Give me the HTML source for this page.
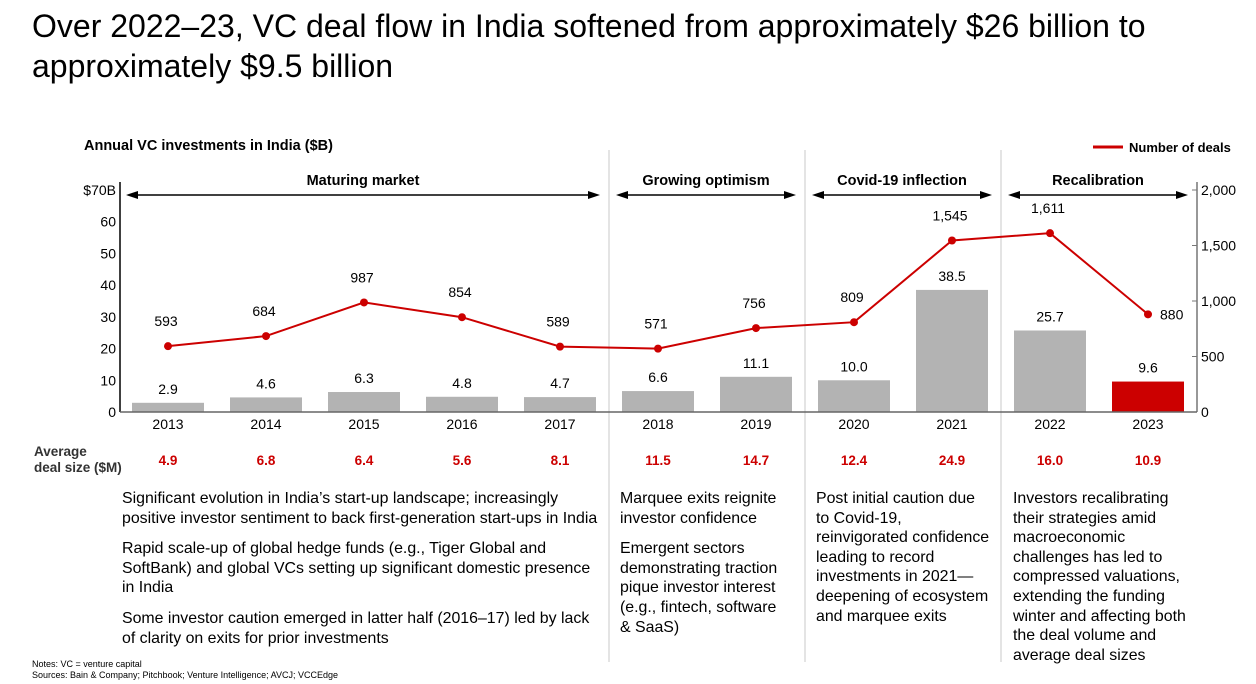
<!DOCTYPE html>
<html><head><meta charset="utf-8"><style>
body{margin:0;width:1256px;height:684px;background:#fff;font-family:"Liberation Sans",Arial,sans-serif;position:relative;overflow:hidden;color:#000}
.abs{position:absolute}
.title{left:32px;top:6px;font-size:32px;line-height:40px;white-space:nowrap}
.txt{font-size:15.9px;line-height:19.6px;white-space:nowrap}
.txt p{margin:0 0 11px 0}
.note{font-size:9px;left:32px;line-height:11px}
</style></head><body>
<div class="abs title">Over 2022–23, VC deal flow in India softened from approximately $26 billion to<br>approximately $9.5 billion</div>
<svg class="abs" style="left:0;top:0" width="1256" height="684">
<g id="g"></g>
</svg>
<div class="abs txt" style="left:122px;top:489px"><p>Significant evolution in India’s start-up landscape; increasingly<br>positive investor sentiment to back first-generation start-ups in India</p><p>Rapid scale-up of global hedge funds (e.g., Tiger Global and<br>SoftBank) and global VCs setting up significant domestic presence<br>in India</p><p>Some investor caution emerged in latter half (2016–17) led by lack<br>of clarity on exits for prior investments</p></div>
<div class="abs txt" style="left:620px;top:489px"><p>Marquee exits reignite<br>investor confidence</p><p>Emergent sectors<br>demonstrating traction<br>pique investor interest<br>(e.g., fintech, software<br>&amp; SaaS)</p></div>
<div class="abs txt" style="left:816px;top:489px"><p>Post initial caution due<br>to Covid-19,<br>reinvigorated confidence<br>leading to record<br>investments in 2021—<br>deepening of ecosystem<br>and marquee exits</p></div>
<div class="abs txt" style="left:1013px;top:489px"><p>Investors recalibrating<br>their strategies amid<br>macroeconomic<br>challenges has led to<br>compressed valuations,<br>extending the funding<br>winter and affecting both<br>the deal volume and<br>average deal sizes</p></div>
<div class="abs note" style="top:659px">Notes: VC = venture capital</div>
<div class="abs note" style="top:670px">Sources: Bain &amp; Company; Pitchbook; Venture Intelligence; AVCJ; VCCEdge</div>
<script>
const years=['2013','2014','2015','2016','2017','2018','2019','2020','2021','2022','2023'];
const investments=[2.9,4.6,6.3,4.8,4.7,6.6,11.1,10.0,38.5,25.7,9.6];
const deals=[593,684,987,854,589,571,756,809,1545,1611,880];
const dealSize=['4.9','6.8','6.4','5.6','8.1','11.5','14.7','12.4','24.9','16.0','10.9'];
const leftTicks=[0,10,20,30,40,50,60,70];
const rightTicks=[0,500,1000,1500,2000];
const phases=['Maturing market','Growing optimism','Covid-19 inflection','Recalibration'];
const phaseSpan=[[0,4],[5,6],[7,8],[9,10]];

const NS='http://www.w3.org/2000/svg';
const gRoot=document.getElementById('g');
const X0=168,STEP=98,BASE=412,TOPY=190;
const xs=i=>X0+i*STEP;
const yL=v=>BASE-(v/70)*(BASE-TOPY);
const yR=v=>BASE-(v/2000)*(BASE-TOPY);
function el(t,a,txt){const e=document.createElementNS(NS,t);for(const k in a)e.setAttribute(k,a[k]);if(txt!=null)e.textContent=txt;gRoot.appendChild(e);return e;}
const F='Liberation Sans, Arial, sans-serif';
const FS=14;
let e;
e=el('text',{x:84,y:150,'font-size':14.5,'font-weight':'bold','font-family':F},'Annual VC investments in India ($B)');


[609,805,1001].forEach(x=>{e=el('line',{x1:x,y1:150,x2:x,y2:662,stroke:'#c8c8c8','stroke-width':1});

});
e=el('line',{x1:120,y1:182,x2:120,y2:BASE,stroke:'#000','stroke-width':1.5});


e=el('line',{x1:1197,y1:182,x2:1197,y2:BASE,stroke:'#777','stroke-width':1.5});


leftTicks.forEach(t=>{e=el('text',{x:116,y:yL(t)+5,'font-size':FS,'text-anchor':'end','font-family':F},t===70?'$70B':String(t));

});
rightTicks.forEach(t=>{el('line',{x1:1197,y1:yR(t),x2:1192,y2:yR(t),stroke:'#777'});e=el('text',{x:1201,y:yR(t)+5,'font-size':FS,'font-family':F},t.toLocaleString('en-US'));

});
years.forEach((y,i)=>{
 const v=investments[i];
 e=el('rect',{x:xs(i)-36,y:yL(v),width:72,height:BASE-yL(v),fill:i===10?'#cc0000':'#b3b3b3'});
 
 
 e=el('text',{x:xs(i),y:yL(v)-9,'font-size':FS,'text-anchor':'middle','font-family':F},v.toFixed(1));
 
 
 e=el('text',{x:xs(i),y:BASE+17,'font-size':FS,'text-anchor':'middle','font-family':F},y);
 
 
 e=el('text',{x:xs(i),y:465,'font-size':13.5,'font-weight':'bold','fill':'#cc0000','text-anchor':'middle','font-family':F},dealSize[i]);
 
 
});
e=el('line',{x1:120,y1:BASE,x2:1197,y2:BASE,stroke:'#666','stroke-width':1.5});


e=el('polyline',{points:deals.map((d,i)=>xs(i)+','+yR(d)).join(' '),fill:'none',stroke:'#cc0000','stroke-width':2});


deals.forEach((d,i)=>{
 e=el('circle',{cx:xs(i),cy:yR(d),r:4,fill:'#cc0000'});
 
 
 const lx=i===10?xs(i)+12:xs(i)-2, anc=i===10?'start':'middle', ly=i===10?yR(d)+5:yR(d)-20;
 e=el('text',{x:lx,y:ly,'font-size':FS,'text-anchor':anc,'font-family':F},d.toLocaleString('en-US'));
 
 
});
phaseSpan.forEach((s,k)=>{
 const a=xs(s[0])-42,b=xs(s[1])+40,y=195;
 el('line',{x1:a+8,y1:y,x2:b-8,y2:y,stroke:'#000','stroke-width':1.5});
 el('polygon',{points:`${a},${y} ${a+12},${y-4} ${a+12},${y+4}`,fill:'#000'});
 el('polygon',{points:`${b},${y} ${b-12},${y-4} ${b-12},${y+4}`,fill:'#000'});
 e=el('text',{x:(a+b)/2,y:185,'font-size':14.5,'font-weight':'bold','text-anchor':'middle','font-family':F},phases[k]);
 
 
});
e=el('line',{x1:1093,y1:147,x2:1123,y2:147,stroke:'#cc0000','stroke-width':3});


e=el('text',{x:1129,y:152,'font-size':13,'font-weight':'bold','font-family':F},'Number of deals');


e=el('text',{x:34,y:456,'font-size':13.5,'font-weight':'bold','font-family':F,fill:'#333'},'Average');


el('text',{x:34,y:472,'font-size':13.5,'font-weight':'bold','font-family':F,fill:'#333'},'deal size ($M)');
</script>
</body></html>
